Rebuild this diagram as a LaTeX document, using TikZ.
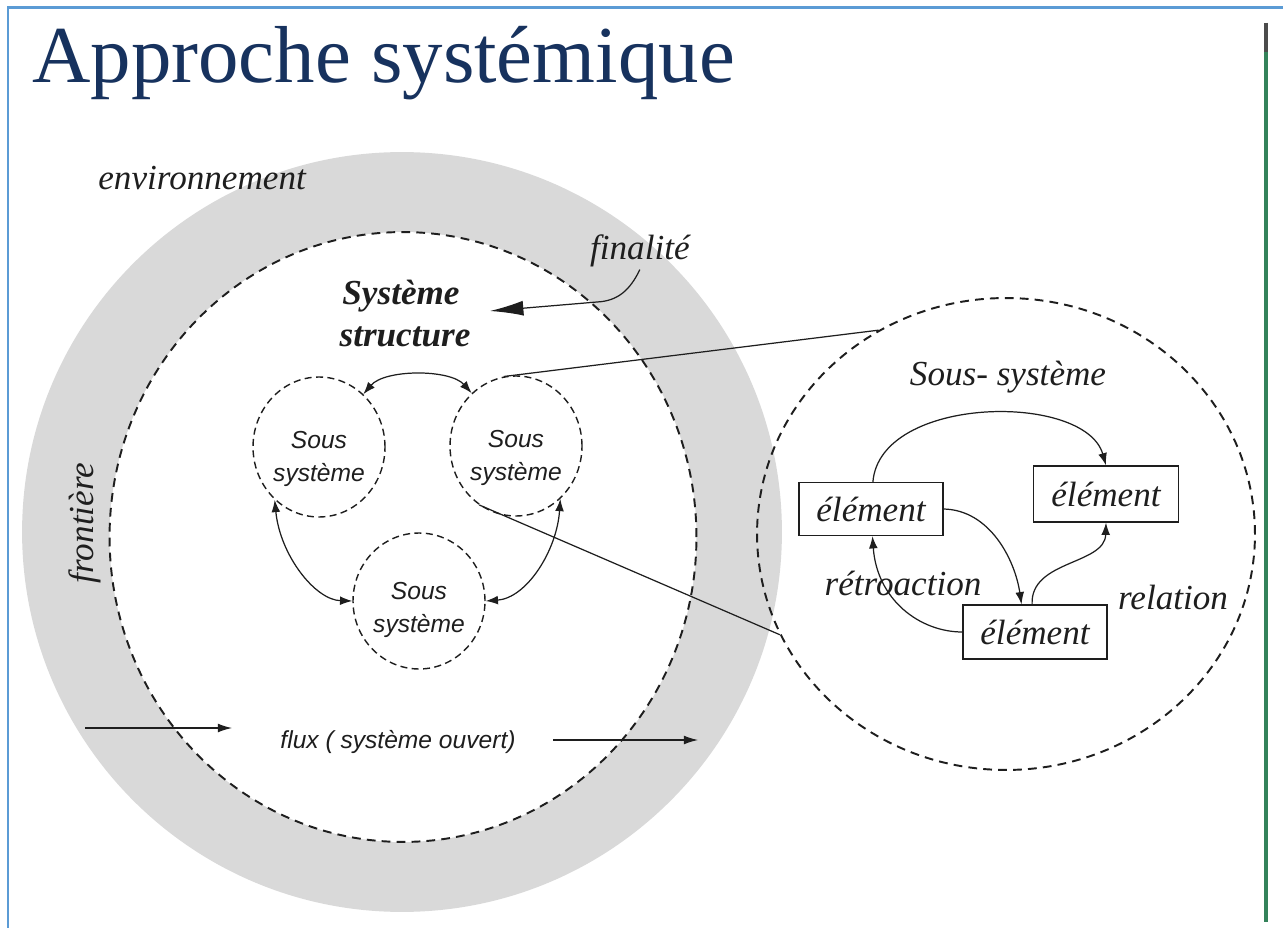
\documentclass[tikz,border=0pt]{standalone}
\usepackage{fontspec}
\setmainfont{Liberation Serif}
\newfontfamily\sanfam{Liberation Sans}
\usetikzlibrary{arrows.meta,shapes.geometric}
\definecolor{ringgray}{RGB}{217,217,217}
\definecolor{titleblue}{RGB}{23,50,94}
\definecolor{frameblue}{RGB}{91,155,213}
\definecolor{bargreen}{RGB}{52,130,90}
\definecolor{ink}{RGB}{30,30,30}
\begin{document}
\begin{tikzpicture}[x=0.02cm,y=-0.02cm,
  lbl/.style={font=\fontsize{20}{24}\selectfont\itshape, text=ink, inner sep=0pt},
  boldlbl/.style={font=\fontsize{20}{24}\selectfont\bfseries\itshape, text=ink, inner sep=0pt},
  sublbl/.style={font=\sanfam\fontsize{14}{19}\selectfont\itshape, text=ink, align=center, inner sep=0pt},
  subsys/.style={draw=ink, dash pattern=on 4pt off 2.5pt, line width=0.8pt, ellipse, inner sep=0pt, minimum width=2.64cm, minimum height=2.8cm},
  bigdash/.style={draw=ink, dash pattern=on 5pt off 3.5pt, line width=1.1pt},
  elem/.style={draw=ink, line width=0.7pt, rectangle, inner sep=0pt, minimum width=2.88cm, minimum height=1.06cm, font=\fontsize{20}{24}\selectfont\itshape, text=ink},
  conn/.style={draw=ink, line width=0.7pt},
  arrowend/.style={-{Latex[length=7pt,width=5pt]}},
  twoends/.style={{Latex[length=7pt,width=5pt]}-{Latex[length=7pt,width=5pt]}},
]
\useasboundingbox (0,0) rectangle (1283,928);
\fill[white] (0,0) rectangle (1283,928);
% frame
\draw[frameblue, line width=1.7pt] (8,928) -- (8,8) -- (1283,8);
\draw[bargreen, line width=2.3pt] (1266,23) -- (1266,922);
\draw[gray!60!black, line width=2.3pt] (1266,23) -- (1266,52);
% title
\node[anchor=base west, inner sep=0pt, font=\fontsize{46}{50}\selectfont, text=titleblue] (title) at (32,83) {Approche systémique};
% environment ring
\node[circle, fill=ringgray, inner sep=0pt, minimum size=15.2cm] (env) at (402,532) {};
\node[ellipse, fill=white, bigdash, inner sep=0pt, minimum width=11.74cm, minimum height=12.2cm] (sys) at (403,537) {};
% labels
\node[lbl, anchor=base west] (envlbl) at (98,190) {environnement};
\node[lbl, rotate=90] (front) at (85,523) {frontière};
\node[lbl, anchor=base west, inner sep=1pt] (fin) at (588,260) {finalité};
\node[boldlbl, anchor=base] (sysa) at (401,305) {Système};
\node[boldlbl, anchor=base] (sysb) at (405,347) {structure};
\coordinate (finend) at (490,311);
\draw[conn, -{Latex[length=19pt,width=8.5pt]}] (fin.south) .. controls (630,290) and (618,301) .. (597,302) -- (finend);
% sub-systems
\node[subsys] (s1) at (319,447) {};
\node[subsys] (s2) at (516,446) {};
\node[subsys, minimum height=2.72cm] (s3) at (419,601) {};
\node[sublbl] (t1) at (319,459) {Sous\\système};
\node[sublbl] (t2) at (516,458) {Sous\\système};
\node[sublbl] (t3) at (419,610) {Sous\\système};
\draw[conn, twoends] (s1.50) .. controls (385,369) and (450,369) .. (s2.130);
\draw[conn, twoends] (s1.230) .. controls (280,555) and (315,600) .. (s3.180);
\draw[conn, twoends] (s2.-50) .. controls (557,550) and (527,598) .. (s3.0);
% flux
\coordinate (fa1) at (85,728);
\coordinate (fa2) at (232,728);
\coordinate (fb1) at (553,740);
\coordinate (fb2) at (698,740);
\draw[conn, -{Latex[length=8pt,width=5pt]}] (fa1) -- (fa2);
\draw[conn, -{Latex[length=8pt,width=5pt]}] (fb1) -- (fb2);
\node[sublbl] (flux) at (398,742) {flux ( système ouvert)};
% big sub-system
\node[ellipse, bigdash, inner sep=0pt, minimum width=9.96cm, minimum height=9.44cm] (B) at (1006,534) {};
\draw[conn] (s2.100) -- (B.122);
\draw[conn] (s2.238) -- (B.204);
\node[lbl] (sstitle) at (1008,377) {Sous- système};
\node[elem] (e1) at (871,509) {élément};
\node[elem, minimum width=2.9cm, minimum height=1.12cm] (e2) at (1106,494) {élément};
\node[elem, minimum height=1.08cm] (e3) at (1035,632) {élément};
\draw[conn, arrowend] (e1.86) .. controls (880,395) and (1085,392) .. (e2.north);
\draw[conn, arrowend] (e1.east) .. controls (990,510) and (1015,560) .. (e3.116);
\draw[conn, arrowend] (e3.96) .. controls (1030,560) and (1105,565) .. (e2.south);
\draw[conn, arrowend] (e3.west) .. controls (920,632) and (877,600) .. (e1.-87);
\node[lbl] (retro) at (903,583) {rétroaction};
\node[lbl] (rel) at (1173,597) {relation};
\end{tikzpicture}
\end{document}
